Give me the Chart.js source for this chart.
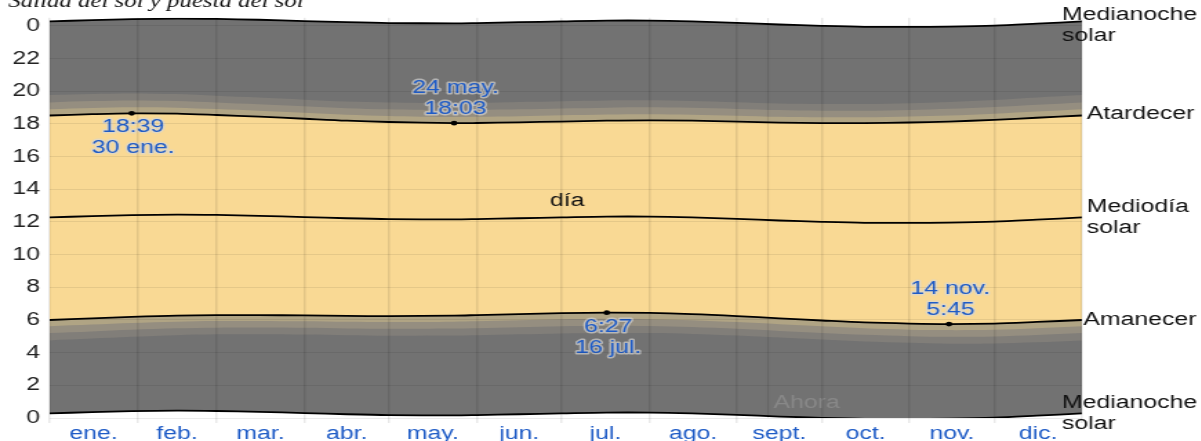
<!DOCTYPE html>
<html>
<head>
<meta charset="utf-8">
<script src="https://cdn.jsdelivr.net/npm/chart.js@4/dist/chart.umd.min.js"></script>
<style>
  html, body { margin: 0; padding: 0; background: #fff; overflow: hidden; }
  /* the reference is stretched sideways, so the chart is drawn narrow and widened */
  #wrap { width: 870px; height: 441px; transform: scaleX(1.38); transform-origin: 0 0; }
</style>
</head>
<body>
<div id="wrap"><canvas id="sunChart"></canvas></div>
<script>
// sample days of the year and hours
const dayOfYear = [0, 15, 29, 45, 59, 74, 90, 105, 120, 143, 151, 166, 181, 197, 212, 227, 243, 258, 273, 288, 304, 318, 334, 349, 365];
const sunrise = [6.00, 6.10, 6.19, 6.27, 6.30, 6.30, 6.28, 6.25, 6.24, 6.27, 6.30, 6.36, 6.42, 6.45, 6.43, 6.36, 6.24, 6.10, 5.97, 5.85, 5.78, 5.75, 5.78, 5.88, 6.00];
const sunset = [18.52, 18.60, 18.65, 18.63, 18.55, 18.45, 18.32, 18.20, 18.12, 18.05, 18.06, 18.10, 18.15, 18.20, 18.22, 18.20, 18.14, 18.08, 18.05, 18.05, 18.09, 18.15, 18.25, 18.38, 18.52];
const solarNoon = [12.28, 12.36, 12.42, 12.45, 12.43, 12.38, 12.30, 12.23, 12.18, 12.16, 12.18, 12.23, 12.28, 12.33, 12.33, 12.28, 12.19, 12.09, 12.01, 11.95, 11.94, 11.96, 12.02, 12.14, 12.28];
// twilight lengths (hours) before sunrise / after sunset
const civilTw = [0.38, 0.38, 0.37, 0.37, 0.36, 0.36, 0.36, 0.36, 0.37, 0.37, 0.38, 0.38, 0.38, 0.38, 0.38, 0.37, 0.37, 0.36, 0.36, 0.36, 0.37, 0.37, 0.38, 0.38, 0.38];
const nauticalTw = [0.80, 0.80, 0.79, 0.78, 0.77, 0.76, 0.76, 0.77, 0.78, 0.79, 0.80, 0.80, 0.80, 0.80, 0.80, 0.79, 0.78, 0.77, 0.76, 0.76, 0.77, 0.78, 0.79, 0.80, 0.80];
const astroTw = [1.25, 1.24, 1.22, 1.20, 1.18, 1.17, 1.17, 1.18, 1.20, 1.22, 1.23, 1.24, 1.24, 1.24, 1.23, 1.21, 1.19, 1.17, 1.17, 1.17, 1.18, 1.20, 1.22, 1.24, 1.25];

const monthLabels = ['ene.', 'feb.', 'mar.', 'abr.', 'may.', 'jun.', 'jul.', 'ago.', 'sept.', 'oct.', 'nov.', 'dic.'];
const monthStarts = [0, 31, 59, 90, 120, 151, 181, 212, 243, 273, 304, 334, 365];
const hourTicks = [0, 2, 4, 6, 8, 10, 12, 14, 16, 18, 20, 22, 24];

const extremeDays = [29, 143, 197, 318];
const extremeHours = [18.65, 18.05, 6.45, 5.75];
const extremeText = [['18:39', '30 ene.'], ['24 may.', '18:03'], ['6:27', '16 jul.'], ['14 nov.', '5:45']];
const calloutSide = [1, -1, 1, -1];   // 1 = below the dot, -1 = above

const nowDay = 254;

const NIGHT = '#727272';
const ASTRO = '#817e79';
const NAUT = '#958e80';
const CIVIL = '#b0a484';
const DAY = '#f9d994';
const BLUE = '#1e5bc6';
const FONT = '"Liberation Sans", Arial, sans-serif';

const pts = arr => dayOfYear.map((d, i) => ({ x: d, y: arr[i] }));
const shift = (arr, tw, sign) => arr.map((v, i) => v + sign * tw[i]);

const monthMids = monthLabels.map((m, i) => (monthStarts[i] + monthStarts[i + 1]) / 2);
const xTicks = monthStarts.concat(monthMids).sort((a, b) => a - b);

const band = (data, color, fillTo, order) => ({
  data: pts(data), borderWidth: 0, pointRadius: 0, tension: 0.3,
  backgroundColor: color, fill: fillTo, order: order
});
const line = (data, order, extra) => Object.assign({
  data: pts(data), borderColor: '#000', borderWidth: 1.8, pointRadius: 0,
  tension: 0.3, fill: false, order: order
}, extra || {});

const datasets = [
  line(solarNoon.map(v => v + 12), 10, { fill: 1, backgroundColor: NIGHT }),  // 0 midnight top
  line(solarNoon.map(v => v - 12), 4),                                           // 1 midnight bottom
  band(shift(sunset, astroTw, 1), ASTRO, 3, 9),                                  // 2
  band(shift(sunrise, astroTw, -1), ASTRO, false, 9),                            // 3
  band(shift(sunset, nauticalTw, 1), NAUT, 5, 8),                                // 4
  band(shift(sunrise, nauticalTw, -1), NAUT, false, 8),                          // 5
  band(shift(sunset, civilTw, 1), CIVIL, 7, 7),                                  // 6
  band(shift(sunrise, civilTw, -1), CIVIL, false, 7),                            // 7
  line(sunset, 6, { fill: 9, backgroundColor: DAY }),                            // 8 sunset
  line(sunrise, 3),                                                              // 9 sunrise
  line(solarNoon, 3),                                                            // 10 noon
  {
    data: [{ x: nowDay, y: 0 }, { x: nowDay, y: 24.5 }],
    borderColor: 'rgba(0,0,0,0.10)', borderWidth: 1.2, pointRadius: 0, fill: false, order: 5
  },
  {
    data: extremeDays.map((d, i) => ({ x: d, y: extremeHours[i] })),
    showLine: false, pointRadius: 2.4, pointBackgroundColor: '#000', pointBorderWidth: 0, order: 0
  }
];

const overlay = {
  id: 'overlay',
  afterDatasetsDraw(chart) {
    const { ctx, chartArea, scales: { x, y } } = chart;
    ctx.save();
    ctx.font = '18px ' + FONT;
    ctx.textBaseline = 'middle';

    ctx.fillStyle = 'rgba(255,255,255,0.16)';
    ctx.textAlign = 'left';
    ctx.fillText('Ahora', x.getPixelForValue(nowDay) + 4, y.getPixelForValue(0.9));

    ctx.fillStyle = '#111';
    ctx.textAlign = 'center';
    ctx.fillText('día', x.getPixelForValue(183), y.getPixelForValue(13.3));

    // extreme callouts
    extremeDays.forEach((d, i) => {
      const px = x.getPixelForValue(d) + 1;
      const py = y.getPixelForValue(extremeHours[i]);
      const rows = calloutSide[i] > 0 ? [py + 14, py + 35] : [py - 35, py - 14];
      ctx.lineWidth = 3;
      ctx.lineJoin = 'round';
      ctx.strokeStyle = 'rgba(215,215,215,0.65)';
      ctx.fillStyle = BLUE;
      extremeText[i].forEach((t, k) => {
        ctx.strokeText(t, px, rows[k]);
        ctx.fillText(t, px, rows[k]);
      });
    });

    // line names on the right
    const last = dayOfYear.length - 1;
    const endY = v => y.getPixelForValue(v);
    ctx.fillStyle = '#111';
    ctx.textAlign = 'left';
    const two = (a, b, px, cy) => { ctx.fillText(a, px, cy - 10.5); ctx.fillText(b, px, cy + 10.5); };
    two('Medianoche', 'solar', chartArea.right - 14.5, Math.max(endY(solarNoon[last] + 12), 25.5));
    ctx.fillText('Atardecer', chartArea.right + 3.5, endY(sunset[last]) - 1);
    two('Mediodía', 'solar', chartArea.right + 3.5, endY(solarNoon[last]));
    ctx.fillText('Amanecer', chartArea.right + 1, endY(sunrise[last]));
    two('Medianoche', 'solar', chartArea.right - 14.5, endY(solarNoon[last] - 12));

    // title, cut off by the top edge
    ctx.font = 'italic 18px "Liberation Serif", serif';
    ctx.fillStyle = '#111';
    ctx.textBaseline = 'alphabetic';
    ctx.fillText('Salida del sol y puesta del sol', 6, 7);
    ctx.restore();
  }
};

new Chart('sunChart', {
  type: 'line',
  data: { datasets: datasets },
  plugins: [overlay],
  options: {
    responsive: true,
    maintainAspectRatio: false,
    animation: false,
    events: [],
    layout: { padding: { left: 0, right: 86, top: 14, bottom: 0 } },
    plugins: {
      legend: { display: false },
      tooltip: { enabled: false },
      filler: { propagate: false }
    },
    scales: {
      x: {
        type: 'linear', min: 0, max: 365,
        afterBuildTicks: s => { s.ticks = xTicks.map(v => ({ value: v })); },
        afterFit: s => { s.height = 23; },
        border: { display: false },
        grid: {
          z: 1, lineWidth: 1.5, tickLength: 5,
          color: c => (c.tick && monthStarts.includes(c.tick.value)) ? 'rgba(0,0,0,0.09)' : 'rgba(0,0,0,0)'
        },
        ticks: {
          autoSkip: false, maxRotation: 0, padding: 0, color: BLUE,
          font: { family: FONT, size: 18 },
          callback: v => { const i = monthMids.indexOf(v); return i >= 0 ? monthLabels[i] : ''; }
        }
      },
      y: {
        min: 0, max: 24.5,
        afterBuildTicks: s => { s.ticks = hourTicks.map(v => ({ value: v })); },
        afterFit: s => { s.width = 36; },
        border: { display: false },
        grid: { z: 1, lineWidth: 1, color: 'rgba(0,0,0,0.08)', drawTicks: false },
        ticks: {
          padding: 7, color: '#222',
          font: { family: FONT, size: 18 },
          callback: v => String(v % 24)
        }
      }
    }
  }
});
</script>
</body>
</html>
